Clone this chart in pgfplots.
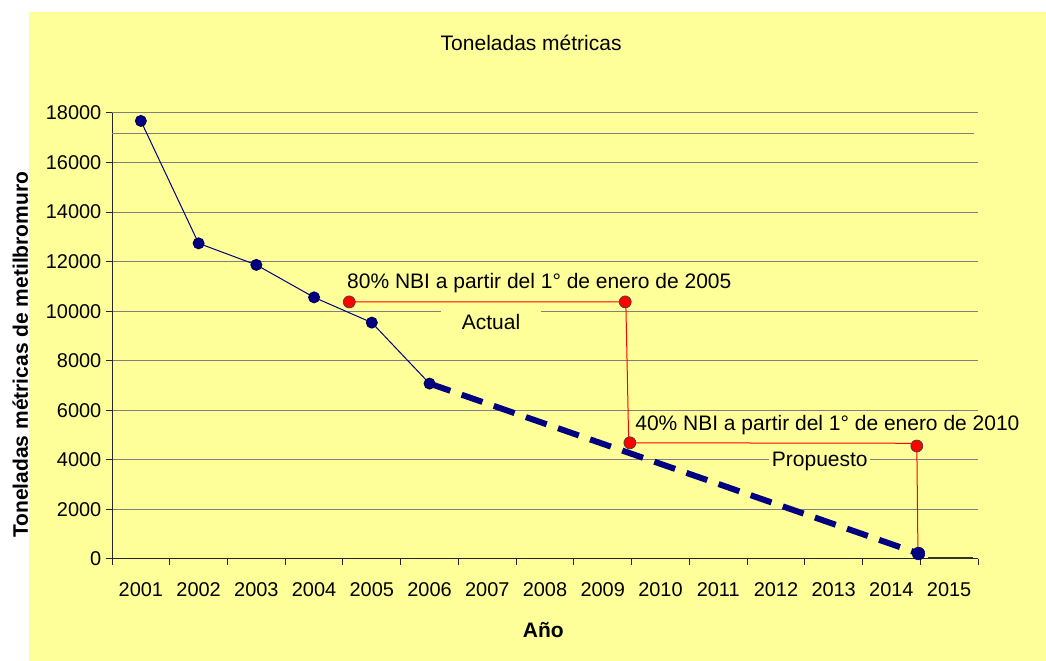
\documentclass[border=0pt]{standalone}
\usepackage{pgfplots}
\pgfplotsset{compat=1.18}
\usepackage{fontspec}
\setmainfont{Liberation Sans}
\definecolor{bgyellow}{RGB}{255,255,153}
\definecolor{navy}{RGB}{0,0,128}
\definecolor{gridgray}{RGB}{128,128,128}
\begin{document}
\begin{tikzpicture}
\useasboundingbox (0,0) rectangle (784.5bp,495.75bp);
\fill[white] (0,0) rectangle (784.5bp,495.75bp);
\fill[bgyellow] (21.75bp,0) rectangle (784.5bp,486.75bp);
\begin{axis}[
  at={(84bp,76.5bp)}, anchor=south west,
  scale only axis, width=649.5bp, height=334.5bp,
  xmin=0.5, xmax=15.5, ymin=0, ymax=18000,
  axis x line*=bottom, axis y line*=left,
  axis line style={black!85, line width=0.75bp},
  tick style={black!85, line width=0.75bp},
  tick align=outside,
  major tick length=4.5bp,
  xtick={0.5,1.5,...,15.5}, xticklabels={},
  extra x ticks={1,2,...,15},
  extra x tick labels={2001,2002,2003,2004,2005,2006,2007,2008,2009,2010,2011,2012,2013,2014,2015},
  extra x tick style={major tick length=0pt, xticklabel style={yshift=-14.5bp}},
  ytick={0,2000,...,18000},
  ymajorgrids, grid style={gridgray, line width=0.75bp},
  scaled y ticks=false,
  /pgf/number format/set thousands separator={},
  /pgf/number format/assume math mode=true,
  ticklabel style={font=\fontsize{15}{18}\selectfont},
  title={Toneladas métricas},
  title style={at={(axis description cs:0.484,1.139)}, anchor=center, font=\fontsize{15.8}{19}\selectfont},
  xlabel={Año},
  xlabel style={at={(axis description cs:0.498,-0.159)}, anchor=center, font=\fontsize{15.8}{19}\selectfont\bfseries},
  ylabel={Toneladas métricas de metilbromuro},
  ylabel style={at={(axis description cs:-0.106,0.458)}, anchor=center, rotate=0, font=\fontsize{15.8}{19}\selectfont\bfseries},
  clip=false,
]
\addplot[gridgray, line width=0.75bp] coordinates {(0.5,17180) (15.43,17180)};
\addplot[black!80, line width=1.2bp] coordinates {(14.63,40) (15.41,40)};
\node[fill=bgyellow, minimum width=75bp, minimum height=24bp, inner sep=0pt, font=\fontsize{15.8}{19}\selectfont] at (axis cs:7.065,9560) {Actual};
\node[fill=bgyellow, minimum width=76bp, minimum height=24bp, inner sep=0pt, font=\fontsize{15.8}{19}\selectfont] at (axis cs:12.76,3955) {Propuesto};
\node[anchor=west, inner sep=0pt, font=\fontsize{15.8}{19}\selectfont] at (axis cs:4.57,11140) {80\% NBI a partir del 1° de enero de 2005};
\node[anchor=west, inner sep=0pt, font=\fontsize{15.8}{19}\selectfont] at (axis cs:9.56,5410) {40\% NBI a partir del 1° de enero de 2010};
\addplot[navy, line width=4.5bp, dash pattern=on 16.5bp off 9bp] coordinates {(6,7080) (14.47,220)};
\addplot[red, line width=0.75bp] coordinates {(4.61,10375) (9.40,10375) (9.45,4690) (14.44,4670) (14.46,220)};
\addplot[navy, line width=0.75bp, mark=*, mark size=4.1bp, mark options={fill=navy, draw=navy!70!black, solid}] coordinates {(1,17680) (2,12740) (3,11870) (4,10560) (5,9540) (6,7080)};
\addplot[only marks, mark=*, mark size=4.5bp, mark options={fill=red, draw=black!75, line width=0.5bp}] coordinates {(4.61,10375) (9.39,10375) (9.47,4690) (14.44,4560)};
\addplot[only marks, mark=*, mark size=4.75bp, mark options={fill=navy, draw=navy!70!black}] coordinates {(14.47,220)};
\end{axis}
\end{tikzpicture}
\end{document}
